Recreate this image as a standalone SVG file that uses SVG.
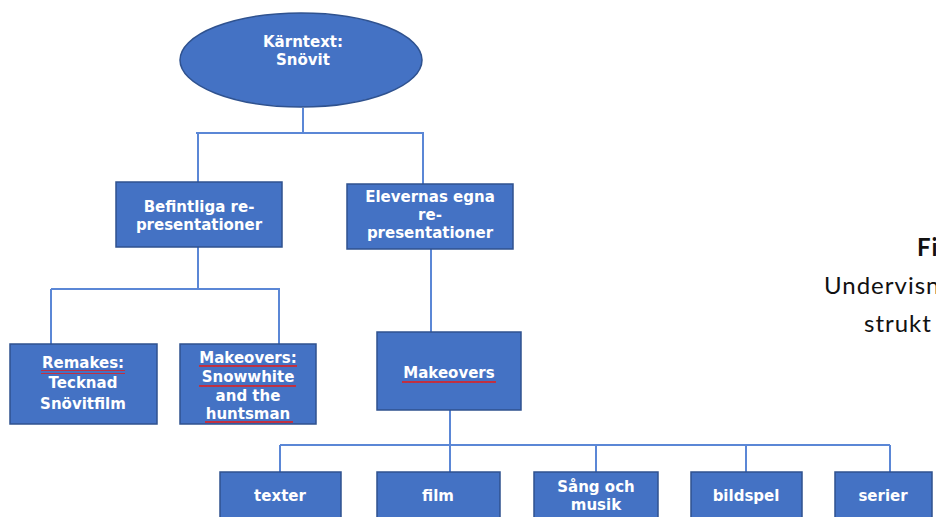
<svg xmlns="http://www.w3.org/2000/svg" width="936" height="517" viewBox="0 0 936 517">
<style>
.node{fill:#4472C4;stroke:#2F528F;stroke-width:1.5}
.lbl{font-family:"DejaVu Sans",sans-serif;font-weight:bold;font-size:15px;fill:#FFFFFF;text-anchor:middle}
.conn{fill:none;stroke:#5B87D6;stroke-width:2}
.cap{font-family:Lato,"Noto Sans",sans-serif;font-size:24px;letter-spacing:1px;fill:#111111}
.wavy{fill:url(#wave)}
</style>
<defs>
<pattern id="wave" width="4" height="4" patternUnits="userSpaceOnUse">
<path d="M0 3 L1 1 L2 3 L3 1 L4 3" fill="none" stroke="#E02020" stroke-width="1"/>
</pattern>
</defs>
<rect width="936" height="517" fill="#FFFFFF"/>
<g id="connectors">
<path class="conn" d="M303 108 V133 M196 133 H424 M198 133 V182 M423 133 V184"/>
<path class="conn" d="M198 247 V289 M51 289 H280 M51 289 V344 M279 289 V344"/>
<path class="conn" d="M431 249 V332"/>
<path class="conn" d="M450 410 V445 M280 445 H890 M280 445 V472 M450 445 V472 M596 445 V472 M746 445 V472 M890 445 V472"/>
</g>
<g id="karntext">
<ellipse class="node" cx="301" cy="60" rx="121" ry="47"/>
<text class="lbl" x="303" y="47">Kärntext:</text>
<text class="lbl" x="303" y="65">Snövit</text>
</g>
<g id="befintliga">
<rect class="node" x="116" y="182" width="166" height="65"/>
<text class="lbl" x="199" y="212">Befintliga re-</text>
<text class="lbl" x="199" y="230">presentationer</text>
</g>
<g id="elevernas">
<rect class="node" x="347" y="184" width="166" height="65"/>
<text class="lbl" x="430" y="202">Elevernas egna</text>
<text class="lbl" x="430" y="220">re-</text>
<text class="lbl" x="430" y="238">presentationer</text>
</g>
<g id="remakes">
<rect class="node" x="10" y="344" width="147" height="80"/>
<text class="lbl" x="83" y="368">Remakes:</text>
<text class="lbl" x="83" y="388">Tecknad</text>
<text class="lbl" x="83" y="409">Snövitfilm</text>
<rect class="wavy" x="41" y="370" width="84" height="4"/>
</g>
<g id="makeovers-snowwhite">
<rect class="node" x="180" y="344" width="136" height="80"/>
<text class="lbl" x="248" y="363">Makeovers:</text>
<text class="lbl" x="248" y="382">Snowwhite</text>
<text class="lbl" x="248" y="401">and the</text>
<text class="lbl" x="248" y="419">huntsman</text>
<rect class="wavy" x="199" y="365" width="98" height="4"/>
<rect class="wavy" x="199" y="384" width="97" height="4"/>
<rect class="wavy" x="205" y="421" width="88" height="3"/>
</g>
<g id="makeovers">
<rect class="node" x="377" y="332" width="144" height="78"/>
<text class="lbl" x="449" y="378">Makeovers</text>
<rect class="wavy" x="402" y="380" width="94" height="4"/>
</g>
<g id="texter">
<rect class="node" x="220" y="472" width="121" height="50"/>
<text class="lbl" x="280" y="501">texter</text>
</g>
<g id="film">
<rect class="node" x="377" y="472" width="123" height="50"/>
<text class="lbl" x="438" y="501">film</text>
</g>
<g id="sang">
<rect class="node" x="534" y="472" width="124" height="50"/>
<text class="lbl" x="596" y="492">Sång och</text>
<text class="lbl" x="596" y="510">musik</text>
</g>
<g id="bildspel">
<rect class="node" x="691" y="472" width="111" height="50"/>
<text class="lbl" x="746" y="501">bildspel</text>
</g>
<g id="serier">
<rect class="node" x="835" y="472" width="97" height="50"/>
<text class="lbl" x="883" y="501">serier</text>
</g>
<text class="cap" x="917" y="256" font-weight="bold">Fi</text>
<text class="cap" x="824" y="294">Undervisn</text>
<text class="cap" x="864" y="332">strukt</text>
</svg>
